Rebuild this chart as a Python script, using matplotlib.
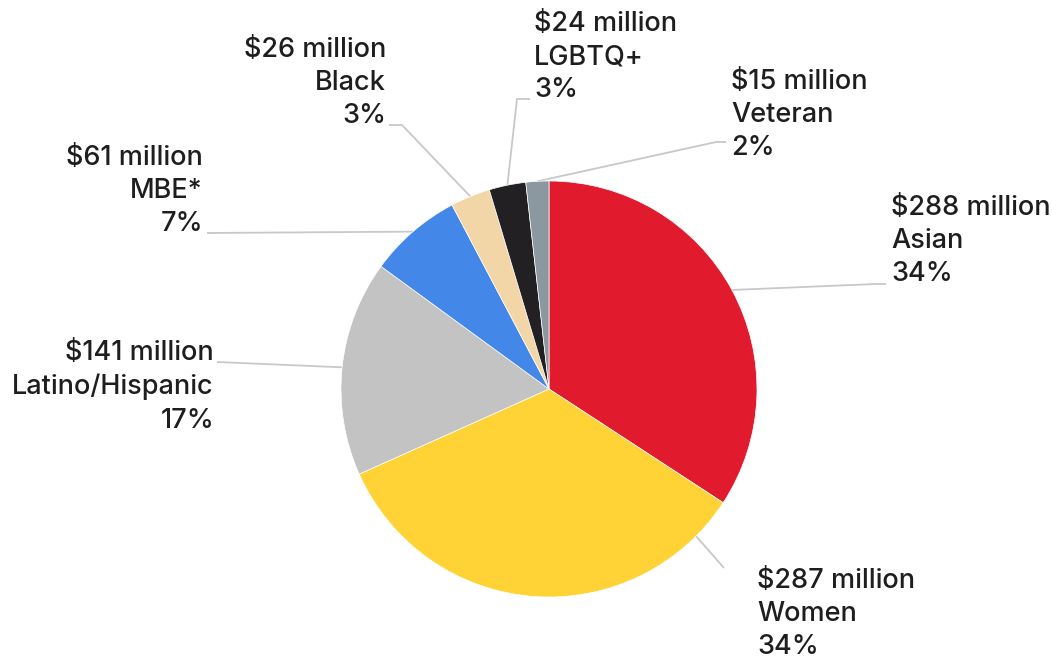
import numpy as np
import matplotlib.pyplot as plt

# -------- DATA --------
groups = ["Asian", "Women", "Latino/Hispanic", "MBE*", "Black", "LGBTQ+", "Veteran"]
amounts = [288, 287, 141, 61, 26, 24, 15]          # $ million
percents = [34, 34, 17, 7, 3, 3, 2]
colors = ["#E11B2D", "#FFD336", "#C3C3C3", "#4387E8", "#F3D6A8", "#222022", "#8B989F"]

# -------- LAYOUT (pixels, y from top) --------
W, H = 1052, 659
CX, CY, R = 549, 389, 208
# text anchor, alignment, elbow, optional leader angle override
label_pos = {
    "Asian":           ((891, 241), "left",  (876, 284), None),
    "Women":           ((757, 614), "left",  (724, 568), -45.0),
    "Latino/Hispanic": ((214, 387), "right", (217, 362), None),
    "MBE*":            ((203, 191), "right", (207, 233), None),
    "Black":           ((386, 83),  "right", (402, 125), None),
    "LGBTQ+":          ((534, 57),  "left",  (517, 99),  None),
    "Veteran":         ((731, 115), "left",  (716, 142), None),
}
line_end = {
    "Asian": (886, 284), "Women": (724, 568), "Latino/Hispanic": (217, 362),
    "MBE*": (207, 233), "Black": (389, 125), "LGBTQ+": (530, 99), "Veteran": (726, 142),
}

plt.rcParams["font.family"] = ["Inter", "DejaVu Sans"]

fig = plt.figure(figsize=(W / 100, H / 100), dpi=100)
ax = fig.add_axes([0, 0, 1, 1])

wedges, _ = ax.pie(amounts, colors=colors, startangle=90, counterclock=False,
                   center=(CX, H - CY), radius=R,
                   wedgeprops=dict(edgecolor="white", linewidth=0.5))
ax.set_xlim(0, W)
ax.set_ylim(0, H)
ax.set_aspect("equal")
ax.axis("off")

for w, g, a, p in zip(wedges, groups, amounts, percents):
    (tx, ty), ha, (ex, ey), ang = label_pos[g]
    if ang is None:
        ang = (w.theta1 + w.theta2) / 2
    sx = CX + R * np.cos(np.radians(ang))
    sy = (H - CY) + R * np.sin(np.radians(ang))
    lx, ly = line_end[g]
    ax.plot([sx, ex, lx], [sy, H - ey, H - ly], color="#C8C8C8", lw=1.3,
            solid_capstyle="butt", zorder=0)
    ax.text(tx, H - ty, f"${a} million\n{g}\n{p}%", ha=ha, va="center",
            multialignment=ha, fontsize=19.5, fontweight="medium",
            color="#1E1E1E", linespacing=1.36)

fig.savefig("out.png", dpi=100)
